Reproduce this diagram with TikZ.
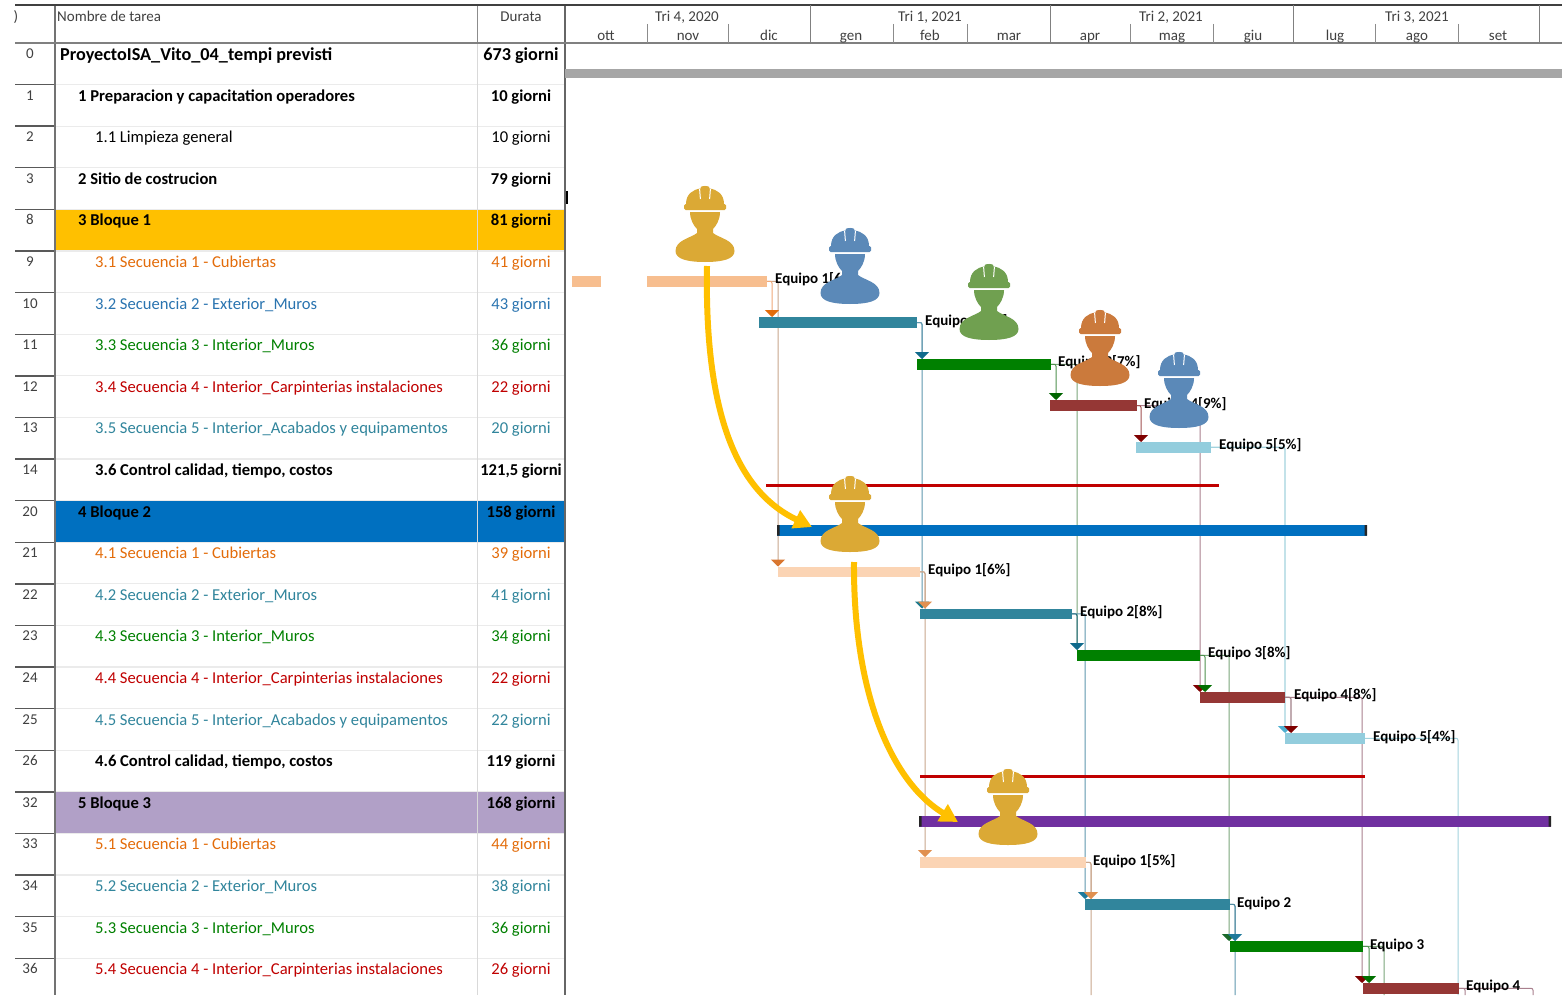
\documentclass[tikz,border=0pt]{standalone}
\usepackage{fontspec}
\setmainfont{Carlito}
\usetikzlibrary{arrows.meta}
\definecolor{cOr}{HTML}{E36C0A}
\definecolor{cBl}{HTML}{2A74B0}
\definecolor{cTe}{HTML}{31859C}
\definecolor{cGr}{HTML}{008000}
\definecolor{cRe}{HTML}{C00000}
\definecolor{cBk}{HTML}{000000}
\definecolor{barOr}{HTML}{F7BE8F}
\definecolor{barPe}{HTML}{FBD4B4}
\definecolor{barBr}{HTML}{953735}
\definecolor{barLb}{HTML}{93CDDD}
\definecolor{barPur}{HTML}{7030A0}
\definecolor{fillBlue}{HTML}{0070C0}
\definecolor{fillPur}{HTML}{B1A0C7}
\definecolor{wGold}{HTML}{DBA935}
\definecolor{wBlue}{HTML}{5B89B8}
\definecolor{wGreen}{HTML}{70A050}
\definecolor{wOrange}{HTML}{CB7A3C}
\definecolor{lnTan}{HTML}{C9A68C}
\definecolor{lnTeal}{HTML}{5F97AE}
\definecolor{lnGreen}{HTML}{7BA67B}
\definecolor{lnBrown}{HTML}{A9808E}
\definecolor{lnLb}{HTML}{A3D3DE}
\definecolor{lnOr}{HTML}{F0A878}
\definecolor{lnGb}{HTML}{4F914F}
\definecolor{lnBb}{HTML}{A05050}
\definecolor{lnTb}{HTML}{1F6A7C}
\definecolor{lnBc}{HTML}{A08088}
\definecolor{lnTc}{HTML}{4F8AA0}
\definecolor{tipA}{HTML}{D9762F}
\definecolor{tipB}{HTML}{1F7A8C}
\definecolor{tipDR}{HTML}{7F0000}
\definecolor{tipLb}{HTML}{4FB0D0}
\definecolor{tipPe}{HTML}{E09050}
\definecolor{tipC}{HTML}{1F7A9C}
\definecolor{tipG}{HTML}{1A6A2A}
\definecolor{tipD}{HTML}{0F6A8C}
\definecolor{tipE}{HTML}{006400}
\definecolor{tipF}{HTML}{007000}
\definecolor{gold}{HTML}{FFC000}
\pgfdeclarelayer{bg}
\pgfsetlayers{bg,main}
\newcommand\ganttbar[6]{\node[barbox,fill=#6,minimum width={(#3-#2)*1pt},minimum height={(#5-#4)*1pt}] (#1) at ({(#2+#3)/2},{(#4+#5)/2}) {};}
\newcommand\hardhat[4]{%
\begin{scope}[shift={(#2,#3)}]
\coordinate (#1) at (0,0);
\fill[#4] (-19,18) .. controls (-19,8) and (-12,3.5) .. (-4.5,2.5) -- (-4,0.8) .. controls (-2,-0.3) and (2,-0.3) .. (4,0.8) -- (4.5,2.5) .. controls (12,3.5) and (19,8) .. (19,18) -- cycle;
\fill[#4,rounded corners=1.5pt] (-21,18) rectangle (21,24);
\draw[white,line width=1pt] (-5.4,3) -- (-4.6,13) (5.4,3) -- (4.6,13);
\fill[#4] (-15,26) -- (15,26) .. controls (15,34) and (11,40) .. (8,43) -- (8,47) .. controls (14,52) and (29.5,54) .. (29.5,65) .. controls (29.5,73) and (18,76) .. (0,76) .. controls (-18,76) and (-29.5,73) .. (-29.5,65) .. controls (-29.5,54) and (-14,52) .. (-8,47) -- (-8,43) .. controls (-11,40) and (-15,34) .. (-15,26) -- cycle;
\end{scope}}
\tikzset{
 barbox/.style={inner sep=0pt,outer sep=0pt,draw=none,rectangle},
 conn/.style={rounded corners=2pt,line width=1pt,draw=#1},
 tipped/.style={-{Triangle[length=7pt,width=14pt,color=#1,fill=#1]}},
 teamlabel/.style={anchor=base west,inner sep=0pt,font=\fontsize{15}{17}\selectfont\bfseries},
 headtext/.style={anchor=base,inner sep=0pt,text=black!75,font=\fontsize{15}{17}\selectfont},
 goldcurve/.style={draw=gold,line width=6pt,-{Triangle[length=18pt,width=19pt,color=gold,fill=gold]}},
}
\begin{document}
\begin{tikzpicture}[x=1pt,y=-1pt]
\useasboundingbox (0,0) rectangle (1562,995);
\begin{pgfonlayer}{bg}
\fill[white] (0,0) rectangle (1562,995);
\end{pgfonlayer}
% filled rows
\fill[gold] (55,209.4) rectangle (565,251);
\fill[fillBlue] (55,500.6) rectangle (565,542.2);
\fill[fillPur] (55,791.8) rectangle (565,833.4);
% row separators
\foreach \rI in {1,...,22}{
 \pgfmathsetmacro\ry{43+41.6*\rI}
 \draw[line width=1.2pt,black!8] (55,\ry) -- (565,\ry);
 \draw[line width=1.4pt,black!65] (15,\ry) -- (55,\ry);
}
\draw[line width=1pt,black!15] (477,43) -- (477,995);
\draw[line width=1pt,black!45] (477,5) -- (477,43);
\draw[line width=1.5pt,black!55] (55,5) -- (55,995);
\draw[line width=1.5pt,black!60] (565,5) -- (565,995);
\draw[line width=1.5pt,black!50] (15,43) -- (1562,43);
\draw[line width=2pt,black!75] (15,5) -- (1562,5);
% header
\node[headtext,anchor=base west] (hname) at (57,21.5) {Nombre de tarea};
\node[headtext] (hdur) at (521,21.5) {Durata};
\node[headtext] (hid) at (16,21.5) {)};
\foreach \qN/\qX/\qT in {q1/687/{Tri 4, 2020},q2/930/{Tri 1, 2021},q3/1171/{Tri 2, 2021},q4/1417/{Tri 3, 2021}}
 \node[headtext] (\qN) at (\qX,21.5) {\qT};
\foreach \mN/\mX/\mT in {m1/606/ott,m2/688/nov,m3/769/dic,m4/851/gen,m5/930/feb,m6/1009/mar,m7/1090/apr,m8/1172/mag,m9/1253/giu,m10/1335/lug,m11/1417/ago,m12/1498/set}
 \node[headtext] (\mN) at (\mX,40.5) {\mT};
\foreach \tX in {647,728,893,967,1130,1213,1375,1458}
 \draw[line width=0.8pt,black!45] (\tX,24) -- (\tX,43);
\foreach \tX in {810,1050,1293,1539}
 \draw[line width=1pt,black!50] (\tX,5) -- (\tX,43);
% table rows
\foreach \rI/\rN/\rT/\rD/\rC/\rF/\rX in {
 1/1/{1 Preparacion y capacitation operadores}/{10 giorni}/cBk/\bfseries/78,
 2/2/{1.1 Limpieza general}/{10 giorni}/cBk//95,
 3/3/{2 Sitio de costrucion}/{79 giorni}/cBk/\bfseries/78,
 4/8/{3 Bloque 1}/{81 giorni}/cBk/\bfseries/78,
 5/9/{3.1 Secuencia 1 - Cubiertas}/{41 giorni}/cOr//95,
 6/10/{3.2 Secuencia 2 - Exterior\_Muros}/{43 giorni}/cBl//95,
 7/11/{3.3 Secuencia 3 - Interior\_Muros}/{36 giorni}/cGr//95,
 8/12/{3.4 Secuencia 4 - Interior\_Carpinterias instalaciones}/{22 giorni}/cRe//95,
 9/13/{3.5 Secuencia 5 - Interior\_Acabados y equipamentos}/{20 giorni}/cTe//95,
 10/14/{3.6 Control calidad, tiempo, costos}/{121,5 giorni}/cBk/\bfseries/95,
 11/20/{4 Bloque 2}/{158 giorni}/cBk/\bfseries/78,
 12/21/{4.1 Secuencia 1 - Cubiertas}/{39 giorni}/cOr//95,
 13/22/{4.2 Secuencia 2 - Exterior\_Muros}/{41 giorni}/cTe//95,
 14/23/{4.3 Secuencia 3 - Interior\_Muros}/{34 giorni}/cGr//95,
 15/24/{4.4 Secuencia 4 - Interior\_Carpinterias instalaciones}/{22 giorni}/cRe//95,
 16/25/{4.5 Secuencia 5 - Interior\_Acabados y equipamentos}/{22 giorni}/cTe//95,
 17/26/{4.6 Control calidad, tiempo, costos}/{119 giorni}/cBk/\bfseries/95,
 18/32/{5 Bloque 3}/{168 giorni}/cBk/\bfseries/78,
 19/33/{5.1 Secuencia 1 - Cubiertas}/{44 giorni}/cOr//95,
 20/34/{5.2 Secuencia 2 - Exterior\_Muros}/{38 giorni}/cTe//95,
 21/35/{5.3 Secuencia 3 - Interior\_Muros}/{36 giorni}/cGr//95,
 22/36/{5.4 Secuencia 4 - Interior\_Carpinterias instalaciones}/{26 giorni}/cRe//95}{
 \pgfmathsetmacro\ry{43+41.6*\rI}
 \node[headtext] (rn\rI) at (30,\ry+15.5) {\rN};
 \node[anchor=base west,inner sep=0pt,text=\rC,font=\fontsize{16.6}{19}\selectfont] (rt\rI) at (\rX,\ry+16.5) {\rF\rT};
 \node[anchor=base,inner sep=0pt,text=\rC,font=\fontsize{16.6}{19}\selectfont] (rd\rI) at (521,\ry+16.5) {\rF\rD};
}
\node[headtext] (rn0) at (30,59) {0};
\node[anchor=base west,inner sep=0pt,font=\fontsize{18.2}{21}\selectfont\bfseries] (rt0) at (60,61) {ProyectoISA\_Vito\_04\_tempi previsti};
\node[anchor=base,inner sep=0pt,font=\fontsize{18.2}{21}\selectfont\bfseries] (rd0) at (521,61) {673 giorni};
% summary bar and marker
\ganttbar{gray0}{565}{1562}{69}{78.5}{black!35}
\fill[black] (565.5,191) rectangle (568,204);
% block 1
\ganttbar{o1a}{572}{601}{276}{286.5}{barOr}
\ganttbar{o1}{647}{767}{276}{286.5}{barOr}
\ganttbar{t1}{759}{917}{317}{328}{cTe}
\ganttbar{g1}{917}{1051}{359}{369.5}{cGr}
\ganttbar{b1}{1050}{1137}{400}{411}{barBr}
\ganttbar{l1}{1136}{1211}{442}{452.5}{barLb}
\ganttbar{red1}{766}{1219}{483.5}{487}{cRe}
% block 2
\ganttbar{blue2}{777}{1367}{525}{535.5}{fillBlue}
\fill[black!85] (777,525) rectangle (779.5,535.5) (1364.5,525) rectangle (1367,535.5);
\ganttbar{o2}{778}{920}{566.5}{577}{barPe}
\coordinate (arrA) at (707,266);
\coordinate (arrAe) at (812,527);
\draw[goldcurve] (arrA) .. controls (704,430) and (745,495) .. (arrAe);
\ganttbar{t2}{920}{1072}{608.5}{619}{cTe}
\ganttbar{g2}{1077}{1200}{650}{660.5}{cGr}
\ganttbar{b2}{1200}{1285}{692}{702.5}{barBr}
\ganttbar{l2}{1285}{1365}{733}{743.5}{barLb}
\ganttbar{red2}{920}{1365}{774.5}{778}{cRe}
% block 3
\ganttbar{purple3}{919}{1551}{816}{826.5}{barPur}
\fill[black!85] (919,816) rectangle (921.5,826.5) (1548.5,816) rectangle (1551,826.5);
\ganttbar{o3}{920}{1086}{857}{867.5}{barPe}
\coordinate (arrB) at (854,562);
\coordinate (arrBe) at (958,822);
\draw[goldcurve] (arrB) .. controls (853,690) and (890,781) .. (arrBe);
\ganttbar{t3}{1085}{1230}{899}{909.5}{cTe}
\ganttbar{g3}{1230}{1363}{941}{951.5}{cGr}
\ganttbar{b3}{1363}{1459}{983}{993.5}{barBr}
% connectors
\begin{pgfonlayer}{bg}
\coordinate (a1) at (772,317);
\coordinate (a2) at (778,566.5);
\coordinate (a3) at (922,359);
\coordinate (a4) at (922,608.5);
\coordinate (a5) at (1056,400);
\coordinate (a6) at (1077,650);
\coordinate (a7) at (1141,442);
\coordinate (a8) at (1200,692);
\coordinate (a9) at (1285,733);
\coordinate (a10) at (925,608.5);
\coordinate (a11) at (925,857);
\coordinate (a12) at (1077,650);
\coordinate (a13) at (1085,899);
\coordinate (a14) at (1205,692);
\coordinate (a15) at (1229,941);
\coordinate (a16) at (1291,733);
\coordinate (a17) at (1362,983);
\coordinate (a18) at (1458,995);
\coordinate (a19) at (1091,899);
\coordinate (a20) at (1091,995);
\coordinate (a21) at (1235,941);
\coordinate (a22) at (1235,995);
\coordinate (a23) at (1369,983);
\coordinate (a24) at (1384,995);
\coordinate (a25) at (1465,995);
\coordinate (a26) at (1533,995);
% long faded lines first
\draw[conn=lnTan,tipped=tipA] (o1.east) -| (a2);
\draw[conn=lnTeal,tipped=tipB] (t1.east) -| (a4);
\draw[conn=lnGreen] (g1.east) -| (a6);
\draw[conn=lnBrown,tipped=tipDR] (b1.east) -| (a8);
\draw[conn=lnLb,line width=1.2pt,tipped=tipLb] (l1.east) -| (a9);
\draw[conn=lnTan,tipped=tipPe] (o2.east) -| (a11);
\draw[conn=lnTeal,tipped=tipC] (t2.east) -| (a13);
\draw[conn=lnGreen,tipped=tipG] (g2.east) -| (a15);
\draw[conn=lnBrown,tipped=tipDR] (b2.east) -| (a17);
\draw[conn=lnLb] (l2.east) -| (a18);
\draw[conn=lnTan] (o3.east) -| (a20);
\draw[conn=lnTeal] (t3.east) -| (a22);
\draw[conn=lnGreen] (g3.east) -| (a24);
\draw[conn=lnBrown] (b3.east) -| (a26);
% short dependency arrows
\draw[conn=lnOr,tipped=cOr] (o1.east) -| (a1);
\draw[conn=lnTeal,tipped=tipD] (t1.east) -| (a3);
\draw[conn=lnGb,tipped=tipE] (g1.east) -| (a5);
\draw[conn=lnBb,tipped=tipDR] (b1.east) -| (a7);
\draw[conn=lnTan,tipped=tipPe] (o2.east) -| (a10);
\draw[conn=lnTb,tipped=tipD] (t2.east) -| (a12);
\draw[conn=lnGb,tipped=tipF] (g2.east) -| (a14);
\draw[conn=lnBc,line width=1.2pt,tipped=tipDR] (b2.east) -| (a16);
\draw[conn=lnTan,tipped=tipPe] (o3.east) -| (a19);
\draw[conn=lnTc,tipped=tipC] (t3.east) -| (a21);
\draw[conn=lnGb,tipped=tipF] (g3.east) -| (a23);
\draw[conn=lnBrown] (b3.east) -| (a25);
\end{pgfonlayer}
% team labels
\foreach \lN/\lX/\lY/\lT in {
 la1/775/283/{Equipo 1[6\%]},la2/925/325/{Equipo 2[8\%]},la3/1058/366/{Equipo 3[7\%]},la4/1144/408/{Equipo 4[9\%]},la5/1219/449/{Equipo 5[5\%]},
 lb1/928/574/{Equipo 1[6\%]},lb2/1080/616/{Equipo 2[8\%]},lb3/1208/657/{Equipo 3[8\%]},lb4/1294/699/{Equipo 4[8\%]},lb5/1373/741/{Equipo 5[4\%]},
 lc1/1093/865/{Equipo 1[5\%]},lc2/1237/907/{Equipo 2},lc3/1370/949/{Equipo 3},lc4/1466/990/{Equipo 4}}
 \node[teamlabel] (\lN) at (\lX,\lY) {\lT};
% workers
\hardhat{w1}{705}{186}{wGold}
\hardhat{w2}{850}{228}{wBlue}
\hardhat{w3}{989}{264}{wGreen}
\hardhat{w4}{1100}{310}{wOrange}
\hardhat{w5}{1179}{352}{wBlue}
\hardhat{w6}{850}{476}{wGold}
\hardhat{w7}{1008}{769}{wGold}
\end{tikzpicture}
\end{document}
